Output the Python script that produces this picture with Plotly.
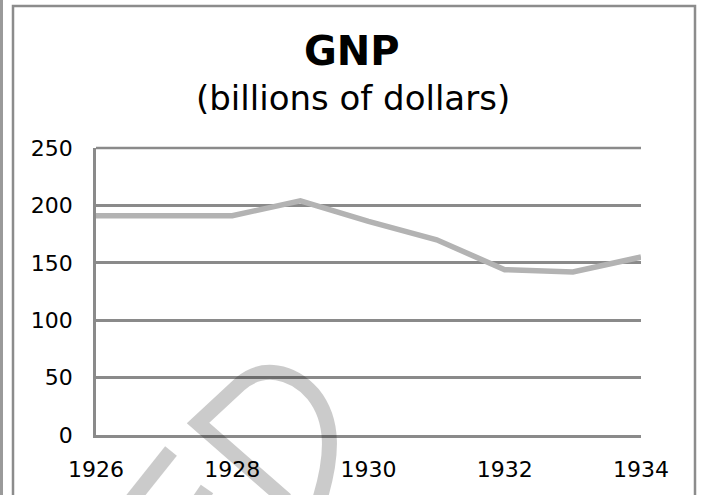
import plotly.graph_objects as go

years = [1926, 1927, 1928, 1929, 1930, 1931, 1932, 1933, 1934]
gnp = [191, 191, 191, 204, 186, 170, 144, 142, 155]
x_ticks = [1926, 1928, 1930, 1932, 1934]
y_ticks = [0, 50, 100, 150, 200, 250]
title_main = "GNP"
title_sub = "(billions of dollars)"

W, H = 704, 495
L, R, T, B = 96, 641, 148, 435


def px(x):
    return (x - L) / (R - L)


def py(y):
    return (B - y) / (B - T)


fig = go.Figure()
fig.add_trace(go.Scatter(
    x=years, y=gnp, mode="lines",
    line=dict(color="#b3b3b3", width=5.5),
    hoverinfo="skip", showlegend=False,
))

grid = "#8a8a8a"
fig.update_layout(
    width=W, height=H,
    margin=dict(l=L, r=W - R, t=T, b=H - B, pad=0),
    paper_bgcolor="white", plot_bgcolor="white",
    showlegend=False,
    font=dict(family="DejaVu Sans", size=22, color="black"),
    xaxis=dict(
        range=[1926, 1934], tickvals=x_ticks, ticktext=[str(v) for v in x_ticks],
        showgrid=False, zeroline=False, showline=True, linecolor=grid, linewidth=2.5,
        ticks="", ticklabelstandoff=13, tickfont=dict(size=22, family="DejaVu Sans"),
    ),
    yaxis=dict(
        range=[0, 250], tickvals=y_ticks, ticktext=[str(v) for v in y_ticks],
        showgrid=True, gridcolor=grid, gridwidth=2.5, zeroline=False,
        showline=True, linecolor=grid, linewidth=2.5,
        ticks="", ticklabelstandoff=16, tickfont=dict(size=22, family="DejaVu Sans"),
    ),
)

# top gridline at the range edge (not clipped)
fig.add_shape(type="line", xref="paper", yref="paper", x0=0, x1=1, y0=1, y1=1,
              line=dict(color=grid, width=2.5), layer="between")

fig.add_annotation(text="<b>" + title_main + "</b>", xref="paper", yref="paper",
                   x=px(352), y=py(51), xanchor="center", yanchor="middle",
                   showarrow=False, font=dict(size=40, family="DejaVu Sans", color="black"))
fig.add_annotation(text=title_sub, xref="paper", yref="paper",
                   x=px(353), y=py(98), xanchor="center", yanchor="middle",
                   showarrow=False, font=dict(size=34, family="DejaVu Sans", color="black"))


def P(x, y):
    return f"{px(x):.5f},{py(y):.5f}"


# page frame
fig.add_shape(type="rect", xref="paper", yref="paper",
              x0=px(13), y0=py(6), x1=px(695), y1=py(520),
              line=dict(color="#8c8c8c", width=2.5), layer="below")
fig.add_shape(type="rect", xref="paper", yref="paper",
              x0=px(-5), y0=py(-5), x1=px(3), y1=py(520),
              line=dict(width=0), fillcolor="#9a9a9a", layer="below")

# watermark
wm = dict(color="black", width=15)
fig.add_shape(type="path", xref="paper", yref="paper", layer="above", opacity=0.2,
              path=f"M{P(286,500)} L{P(198,423)} L{P(240,384)} "
                   f"C{P(262,365)} {P(292,370)} {P(313,394)} "
                   f"C{P(334,420)} {P(334,455)} {P(318,505)}",
              line=wm)
fig.add_shape(type="path", xref="paper", yref="paper", layer="above", opacity=0.2,
              path=f"M{P(171,451)} L{P(128,505)}", line=wm)
fig.add_shape(type="path", xref="paper", yref="paper", layer="above", opacity=0.2,
              path=f"M{P(207,489)} L{P(196,505)}", line=wm)

fig.write_html("out.html")
